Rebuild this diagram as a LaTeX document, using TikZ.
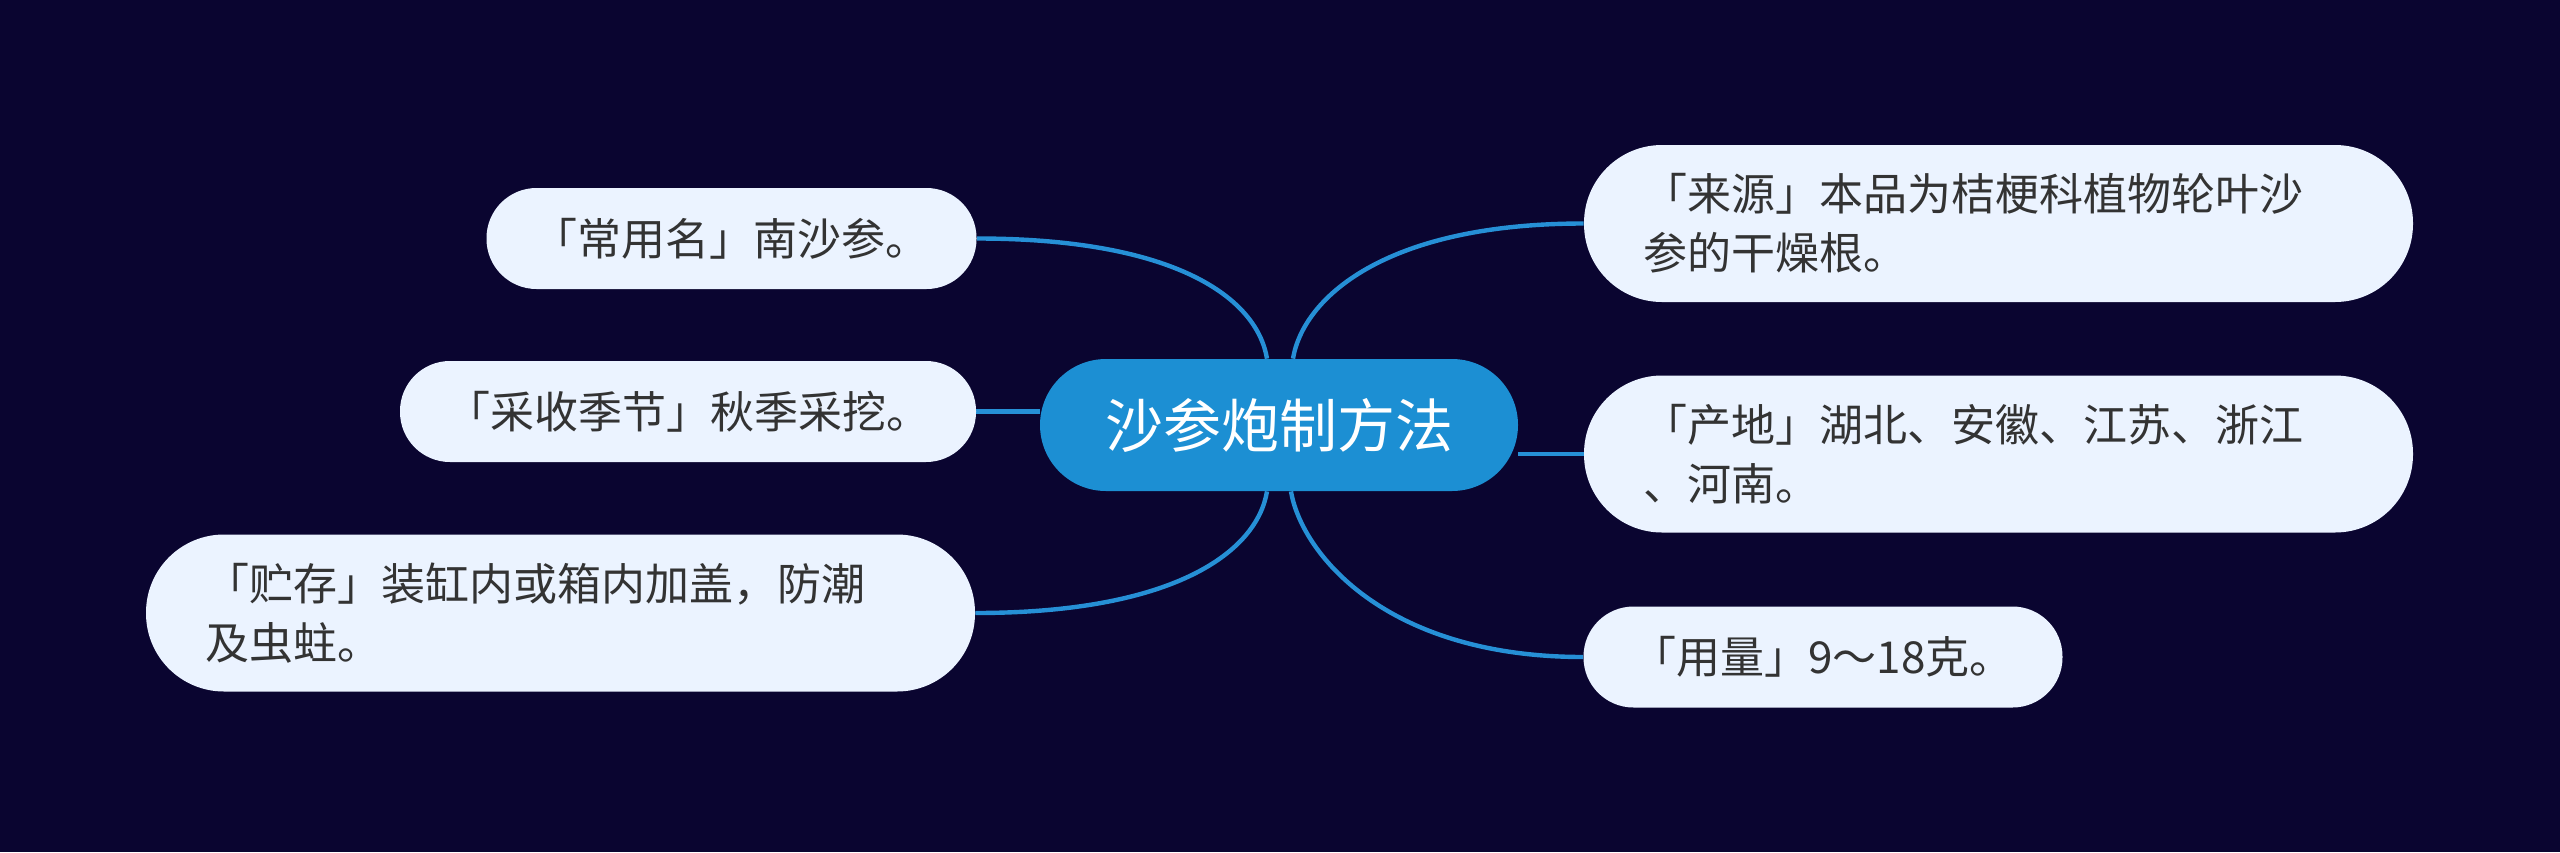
\documentclass[tikz,border=0pt]{standalone}
\usepackage{fontspec}
\newfontfamily\cjk{Noto Sans CJK SC}
\usetikzlibrary{backgrounds,calc}
\definecolor{bg}{HTML}{0A0530}
\definecolor{hub}{HTML}{1C8FD3}
\definecolor{edge}{HTML}{2690D6}
\definecolor{leaf}{HTML}{EBF3FF}
\definecolor{ink}{HTML}{333333}
\begin{document}
\begin{tikzpicture}[x=0.5pt,y=-0.5pt,
  leafbox/.style={fill=leaf, text=ink, font=\cjk\fontsize{22pt}{29.5pt}\selectfont, inner sep=0pt, align=center},
  pillone/.style={leafbox, minimum height=50.5pt, rounded corners=25pt},
  pilltwo/.style={leafbox, align=left, text width=355pt, minimum width=414.5pt, minimum height=78.5pt, rounded corners=39pt},
  hubbox/.style={fill=hub, text=white, font=\cjk\fontsize{29pt}{35pt}\selectfont, inner sep=0pt, minimum width=239pt, minimum height=66pt, rounded corners=33pt},
  link/.style={draw=edge, line width=2.2pt},
]
\begin{scope}[on background layer]
\fill[bg] (0,0) rectangle (2560,852);
\end{scope}
\useasboundingbox (0,0) rectangle (2560,852);

\node[hubbox] (c) at (1279,425) {沙参炮制方法};

\node[pillone, minimum width=245pt] (n1) at (731.5,238.5) {「常用名」南沙参。};
\node[pillone, minimum width=288pt] (n2) at (688,411.5) {「采收季节」秋季采挖。};
\node[pilltwo] (n3) at (560.5,613) {「贮存」装缸内或箱内加盖，防潮\\及虫蛀。};

\node[pilltwo] (r1) at (1998.5,223.5) {「来源」本品为桔梗科植物轮叶沙\\参的干燥根。};
\node[pilltwo] (r2) at (1998.5,454) {「产地」湖北、安徽、江苏、浙江\\、河南。};
\node[pillone, minimum width=239.5pt] (r3) at (1823,657) {「用量」9～18克。};

\coordinate (cTL) at ($(c.north)+(-12,0)$);
\coordinate (cTR) at ($(c.north)+(14,0)$);
\coordinate (cBL) at ($(c.south)+(-12,0)$);
\coordinate (cBR) at ($(c.south)+(12,0)$);

\begin{scope}[on background layer]
\draw[link] (n1.east) .. controls +(200,0) and +(-10,-60) .. (cTL);
\draw[link] (n2.east) -- (n2.east -| c.west);
\draw[link] (n3.east) .. controls +(200,0) and +(-10,60) .. (cBL);
\draw[link] (cTR) .. controls +(10,-60) and +(-200,0) .. (r1.west);
\draw[link] (r2.west) -- (r2.west -| c.east);
\draw[link] (cBR) .. controls +(10,60) and +(-200,0) .. (r3.west);
\end{scope}
\end{tikzpicture}
\end{document}
